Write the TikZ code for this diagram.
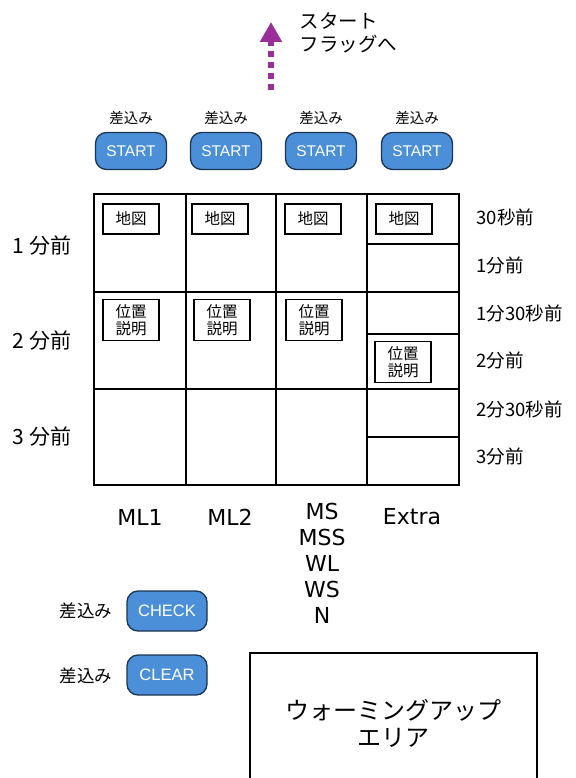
\documentclass[tikz,border=0pt]{standalone}
\usepackage{fontspec}
\setmainfont{Noto Sans CJK JP}
\newfontfamily\latinfont{Liberation Sans}
\newfontfamily\labelfont{DejaVu Sans}
\usetikzlibrary{arrows.meta}

\definecolor{btnblue}{HTML}{4A8FD8}
\definecolor{btnline}{HTML}{1C3452}
\definecolor{flagpurple}{HTML}{9A2E9A}

\begin{document}
\begin{tikzpicture}[x=1pt,y=-1pt,
    button/.style={draw=btnline, fill=btnblue, line width=1.3pt, rounded corners=11pt,
        text=white, font=\latinfont\fontsize{15.5}{15.5}\selectfont, minimum height=37pt},
    insert/.style={font=\fontsize{14.5}{14.5}\selectfont},
    tag/.style={draw, line width=1.3pt, minimum width=56pt, minimum height=30pt, align=center,
        inner sep=2pt, font=\fontsize{15.5}{17}\selectfont},
    timeleft/.style={font=\fontsize{21}{21}\selectfont},
    timeright/.style={anchor=west, font=\fontsize{18.5}{18.5}\selectfont},
    course/.style={font=\labelfont\fontsize{22}{26}\selectfont, align=center},
    grid/.style={line width=2.2pt}
]
\useasboundingbox (0,0) rectangle (575,778);

% arrow to the start flag
\coordinate (Flag Foot) at (271,90);
\coordinate (Flag Tip) at (271,22);
\draw[flagpurple, line width=6pt, dash pattern=on 6pt off 5pt,
    -{Triangle[length=20pt,width=21pt]}] (Flag Foot) to (Flag Tip);
\node[anchor=west, align=left, font=\fontsize{19.5}{23}\selectfont] (Flag Text) at (296,33) {スタート\\フラッグへ};

% start buttons
\node[button, minimum width=71pt] (Start ML1) at (131,151) {START};
\node[button, minimum width=71pt] (Start ML2) at (226,151) {START};
\node[button, minimum width=71pt] (Start MS) at (321,151) {START};
\node[button, minimum width=71pt] (Start Extra) at (417,151) {START};
\node[insert] (Insert ML1) at (131,118) {差込み};
\node[insert] (Insert ML2) at (226,118) {差込み};
\node[insert] (Insert MS) at (321,118) {差込み};
\node[insert] (Insert Extra) at (417,118) {差込み};

% time table
\draw[grid] (94,194) rectangle (459,485);
\foreach \x in {186,276,367} \draw[grid] (\x,194) -- (\x,485);
\foreach \y in {292,389} \draw[grid] (94,\y) -- (459,\y);
\foreach \y in {244,334,437} \draw[grid] (367,\y) -- (459,\y);

\node[tag] (Map ML1) at (131,219) {地図};
\node[tag] (Map ML2) at (220,219) {地図};
\node[tag] (Map MS) at (313,219) {地図};
\node[tag] (Map Extra) at (404,219) {地図};
\node[tag, minimum height=41pt] (Spot ML1) at (131,320) {位置\\説明};
\node[tag, minimum height=41pt] (Spot ML2) at (222,320) {位置\\説明};
\node[tag, minimum height=41pt] (Spot MS) at (314,320) {位置\\説明};
\node[tag, minimum height=41pt] (Spot Extra) at (403,362) {位置\\説明};

\node[timeleft] (One Min) at (42,246) {1 分前};
\node[timeleft] (Two Min) at (42,341) {2 分前};
\node[timeleft] (Three Min) at (42,437) {3 分前};

\node[timeright] (T30s) at (473,217) {30秒前};
\node[timeright] (T1m) at (473,265) {1分前};
\node[timeright] (T1m30s) at (473,313) {1分30秒前};
\node[timeright] (T2m) at (473,360) {2分前};
\node[timeright] (T2m30s) at (473,409) {2分30秒前};
\node[timeright] (T3m) at (473,456) {3分前};

\node[course] (ML1) at (140,517) {ML1};
\node[course] (ML2) at (230,517) {ML2};
\node[course] (MS) at (322,563) {MS\\MSS\\WL\\WS\\N};
\node[course] (Extra) at (412,517) {Extra};

% check and clear
\node[button, minimum width=80pt, minimum height=40pt, font=\latinfont\fontsize{16.5}{16.5}\selectfont] (Check) at (167,611) {CHECK};
\node[button, minimum width=80pt, minimum height=40pt, font=\latinfont\fontsize{16.5}{16.5}\selectfont] (Clear) at (167,675) {CLEAR};
\node[insert, font=\fontsize{17.5}{17.5}\selectfont] (Insert Check) at (86,611) {差込み};
\node[insert, font=\fontsize{17.5}{17.5}\selectfont] (Insert Clear) at (86,676) {差込み};

% warming up area
\draw[line width=1.3pt] (250,778) -- (250,653) -- (537,653) -- (537,778);
\node[align=center, font=\fontsize{24}{27}\selectfont] (Warm Up) at (393,723) {ウォーミングアップ\\エリア};
\end{tikzpicture}
\end{document}
